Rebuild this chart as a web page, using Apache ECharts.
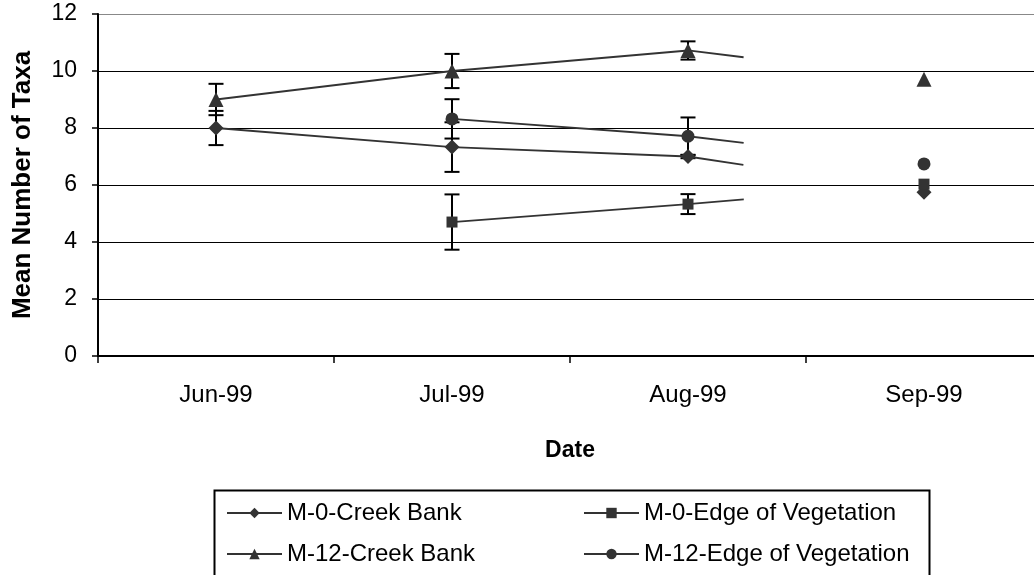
<!DOCTYPE html>
<html>
<head>
<meta charset="utf-8">
<script src="https://cdn.jsdelivr.net/npm/echarts@6/dist/echarts.min.js"></script>
<style>
  html, body { margin: 0; padding: 0; background: #fff; overflow: hidden; }
  /* plot runs past the right edge of the window, as in the original */
  #chart { width: 1044px; height: 575px; }
</style>
</head>
<body>
<div id="chart"></div>
<script>
const months = ["Jun-99", "Jul-99", "Aug-99", "Sep-99"];
const yTicks = [0, 2, 4, 6, 8, 10, 12];

// means and error bar half-widths per month (null = no sample)
const m0Creek = [8.0, 7.33, 7.0, 5.75];
const m0CreekErr = [0.6, 0.87, 0.06, null];
const m0Edge = [null, 4.7, 5.33, 6.03];
const m0EdgeErr = [null, 0.97, 0.35, null];
const m12Creek = [9.0, 10.0, 10.72, 9.71];
const m12CreekErr = [0.55, 0.6, 0.32, null];
const m12Edge = [null, 8.32, 7.71, 6.74];
const m12EdgeErr = [null, 0.69, 0.66, null];

const font = 'Arial, "Liberation Sans", sans-serif';
const ink = "#333333";

const chart = echarts.init(document.getElementById("chart"));

// vertical error bar with caps
const errorBars = (vals, errs) => ({
  type: "custom",
  z: 1,
  silent: true,
  data: vals
    .map((v, i) => (v == null || errs[i] == null ? null : [i, v - errs[i], v + errs[i]]))
    .filter((d) => d),
  renderItem: (params, api) => {
    const lo = api.coord([api.value(0), api.value(1)]);
    const hi = api.coord([api.value(0), api.value(2)]);
    const w = 7.5;
    const style = { stroke: "#000", lineWidth: 2 };
    return {
      type: "group",
      children: [
        { type: "line", shape: { x1: lo[0], y1: lo[1], x2: hi[0], y2: hi[1] }, style },
        { type: "line", shape: { x1: lo[0] - w, y1: lo[1], x2: lo[0] + w, y2: lo[1] }, style },
        { type: "line", shape: { x1: hi[0] - w, y1: hi[1], x2: hi[0] + w, y2: hi[1] }, style },
      ],
    };
  },
});

// Jun..Aug joined by a line, Sep only a marker plus a short stub of the Aug->Sep line
const lineSeries = (name, vals, symbol, size) => {
  const base = {
    name,
    type: "line",
    z: 3,
    symbol,
    symbolSize: size,
    showSymbol: true,
    itemStyle: { color: ink },
    lineStyle: { color: ink, width: 1.8 },
  };
  return [
    { ...base, data: vals.map((v, i) => (i < 3 ? v : null)) },
    {
      ...base,
      data: vals.map((v, i) => (i === 2 ? { value: v, symbol: "none" } : i === 3 ? v : null)),
      lineStyle: { color: ink, width: 1.8, type: [56, 2000] },
    },
  ];
};

const legendText = { fontFamily: font, fontSize: 24, color: "#000" };

const option = {
  animation: false,
  backgroundColor: "#fff",
  grid: { left: 98, top: 14, right: 2, bottom: 219 },
  xAxis: {
    type: "category",
    data: months,
    boundaryGap: true,
    name: "Date",
    nameLocation: "middle",
    nameGap: 83,
    nameTextStyle: { fontFamily: font, fontSize: 23, fontWeight: "bold", color: "#000" },
    axisLine: { lineStyle: { color: "#000", width: 2 } },
    axisTick: { show: true, length: 7, lineStyle: { color: "#000", width: 1.5 } },
    axisLabel: { fontFamily: font, fontSize: 24, color: "#000", margin: 27 },
    splitLine: { show: false },
  },
  yAxis: {
    type: "value",
    min: yTicks[0],
    max: yTicks[yTicks.length - 1],
    interval: 2,
    name: "Mean Number of Taxa",
    nameLocation: "middle",
    nameGap: 62,
    nameTextStyle: { fontFamily: font, fontSize: 26, fontWeight: "bold", color: "#000" },
    axisLine: { show: true, lineStyle: { color: "#000", width: 2 } },
    axisTick: { show: true, length: 6, lineStyle: { color: "#000", width: 1.5 } },
    axisLabel: { fontFamily: font, fontSize: 23, color: "#000", margin: 21 },
    splitLine: {
      show: true,
      lineStyle: { color: ["#000", "#000", "#000", "#000", "#000", "#000", "#888"], width: 1 },
    },
  },
  legend: [
    {
      orient: "vertical",
      left: 221,
      top: 496,
      itemWidth: 55,
      itemHeight: 13,
      itemGap: 17,
      textStyle: legendText,
      data: ["M-0-Creek Bank", "M-12-Creek Bank"],
    },
    {
      orient: "vertical",
      left: 578,
      top: 496,
      itemWidth: 55,
      itemHeight: 13,
      itemGap: 17,
      textStyle: legendText,
      data: ["M-0-Edge of Vegetation", "M-12-Edge of Vegetation"],
    },
  ],
  graphic: [
    {
      type: "rect",
      left: 212,
      top: 488,
      shape: { width: 715, height: 120 },
      style: { fill: "none", stroke: "#000", lineWidth: 2 },
      silent: true,
    },
  ],
  series: [
    errorBars(m0Creek, m0CreekErr),
    errorBars(m0Edge, m0EdgeErr),
    errorBars(m12Creek, m12CreekErr),
    errorBars(m12Edge, m12EdgeErr),
    ...lineSeries("M-0-Creek Bank", m0Creek, "diamond", 15),
    ...lineSeries("M-0-Edge of Vegetation", m0Edge, "rect", 11),
    ...lineSeries("M-12-Creek Bank", m12Creek, "triangle", 15),
    ...lineSeries("M-12-Edge of Vegetation", m12Edge, "circle", 13),
  ],
};

chart.setOption(option);
</script>
</body>
</html>
